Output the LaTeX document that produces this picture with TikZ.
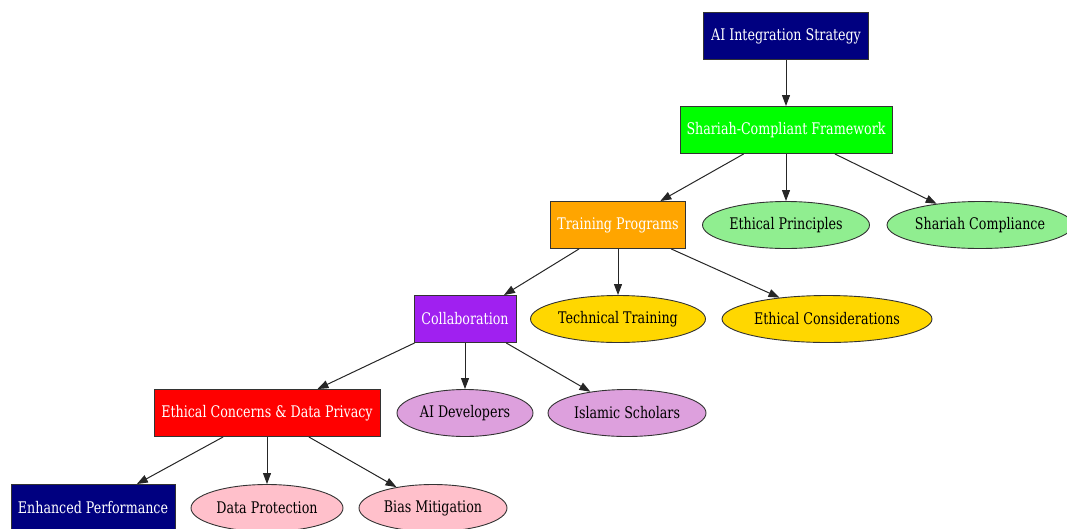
\documentclass[tikz,border=0pt]{standalone}
\usepackage{fontspec}
\setmainfont[FakeStretch=0.88]{DejaVu Serif Condensed}
\usepackage{xcolor}
\usepackage{tikz}
\usetikzlibrary{arrows.meta}
\usetikzlibrary{shapes.geometric}
\definecolor{navyblue}{HTML}{000080}
\definecolor{brightgreen}{HTML}{00FF00}
\definecolor{orangefill}{HTML}{FFA500}
\definecolor{purplefill}{HTML}{A020F0}
\definecolor{redfill}{HTML}{FF0000}
\definecolor{lightgreenfill}{HTML}{90EE90}
\definecolor{goldfill}{HTML}{FFD700}
\definecolor{plumfill}{HTML}{DDA0DD}
\definecolor{pinkfill}{HTML}{FFC0CB}
\tikzset{
	box/.style={draw=black!80,line width=0.9pt,rectangle,minimum height=47pt,text=white,font=\fontsize{16}{18}\selectfont,inner sep=0pt},
	oval/.style={draw=black!80,line width=0.9pt,ellipse,minimum height=47pt,text=black,font=\fontsize{16}{18}\selectfont,inner sep=0pt},
	link/.style={draw=black!85,line width=1pt,-{Triangle[length=11pt,width=8pt]}}
}

\begin{document}
\begin{tikzpicture}[x=1pt,y=-1pt]
	\useasboundingbox (0,0) rectangle (1067,528);
	\clip (0,0) rectangle (1067,528);
	\node[box,fill=navyblue,minimum width=165pt] (strategy) at (786,36) {AI Integration Strategy};
	\node[box,fill=brightgreen,minimum width=212pt] (framework) at (786,130) {Shariah-Compliant Framework};
	\node[box,fill=orangefill,minimum width=135pt] (training) at (618,225) {Training Programs};
	\node[oval,fill=lightgreenfill,minimum width=167pt] (principles) at (786,225) {Ethical Principles};
	\node[oval,fill=lightgreenfill,minimum width=186pt] (compliance) at (980,225) {Shariah Compliance};
	\node[box,fill=purplefill,minimum width=102pt] (collab) at (465,319) {Collaboration};
	\node[oval,fill=goldfill,minimum width=175pt] (technical) at (618,319) {Technical Training};
	\node[oval,fill=goldfill,minimum width=210pt] (considerations) at (827,319) {Ethical Considerations};
	\node[box,fill=redfill,minimum width=226pt] (concerns) at (267,413) {Ethical Concerns \& Data Privacy};
	\node[oval,fill=plumfill,minimum width=136pt] (developers) at (465,413) {AI Developers};
	\node[oval,fill=plumfill,minimum width=158pt] (scholars) at (627,413) {Islamic Scholars};
	\node[box,fill=navyblue,minimum width=164pt] (performance) at (93,508) {Enhanced Performance};
	\node[oval,fill=pinkfill,minimum width=152pt] (protection) at (267,508) {Data Protection};
	\node[oval,fill=pinkfill,minimum width=148pt] (bias) at (433,508) {Bias Mitigation};

	\draw[link] (strategy) -- (framework);
	\draw[link] (framework) -- (training);
	\draw[link] (framework) -- (principles);
	\draw[link] (framework) -- (compliance);
	\draw[link] (training) -- (collab);
	\draw[link] (training) -- (technical);
	\draw[link] (training) -- (considerations);
	\draw[link] (collab) -- (concerns);
	\draw[link] (collab) -- (developers);
	\draw[link] (collab) -- (scholars);
	\draw[link] (concerns) -- (performance);
	\draw[link] (concerns) -- (protection);
	\draw[link] (concerns) -- (bias);
\end{tikzpicture}
\end{document}
